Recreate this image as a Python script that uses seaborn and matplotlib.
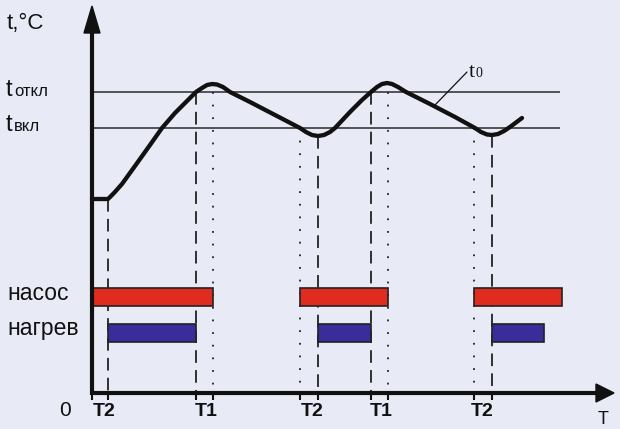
import matplotlib
matplotlib.use("Agg")
import matplotlib.pyplot as plt
import seaborn as sns
import pandas as pd

sns.set_style("white")
plt.rcParams['font.family'] = ['Liberation Sans', 'DejaVu Sans']

bg = "#E8EAF5"
red = "#E02B1F"
blue = "#3B2C9C"

# temperature curve t0 (pixel units)
curve_x = [92, 108, 114, 122, 135, 150, 162, 175, 188, 196, 202, 207, 212, 217, 223, 230,
           250, 275, 300, 306, 312, 318, 324, 330, 335, 350, 362, 371, 377, 382, 387,
           392, 398, 406, 430, 455, 475, 481, 487, 492, 498, 504, 510, 522]
curve_y = [199, 199, 193, 184, 166, 145, 128, 113, 100, 92, 88, 85, 84, 84.5, 87, 92,
           102, 115, 128, 132, 135, 136, 135, 132, 128, 112, 100, 92, 87, 84, 83,
           84, 87, 92, 104, 117, 128, 132, 134.5, 135, 134, 131, 127, 118]

t_off = 92
t_on = 128

# switching moments
t2_moments = [108, 318, 492]     # heater on (dashed)
t1_moments = [196, 371]          # heater off (dashed)
pump_on = [92, 300, 474]         # dotted
pump_off = [213, 388]            # dotted

pump_start = [92, 300, 474]
pump_end = [213, 388, 562]
heat_start = [108, 318, 492]
heat_end = [196, 371, 544]

tick_x = [92, 108, 196, 213, 300, 318, 371, 388, 474, 492]
tick_labels = ["T2", "T1", "T2", "T1", "T2"]
tick_label_x = [104, 206, 312, 381, 482]

fig = plt.figure(figsize=(6.2, 4.29), dpi=100, facecolor=bg)
ax = fig.add_axes([0, 0, 1, 1])
ax.set_facecolor(bg)

# threshold lines
ax.hlines([t_off, t_on], 92, 560, color="#2a2a2a", lw=1.1)

# vertical markers
for x in t2_moments:
    y0 = curve_y[curve_x.index(x)]
    ax.vlines(x, y0, 398, color="#222", lw=1.3, linestyles=(0, (7, 4)))
for x in t1_moments:
    ax.vlines(x, t_off, 398, color="#222", lw=1.3, linestyles=(0, (7, 4)))
for x in pump_on[1:]:
    ax.vlines(x, t_on, 398, color="#222", lw=1.3, linestyles=(0, (1, 6)))
for x in pump_off:
    ax.vlines(x, t_off, 398, color="#222", lw=1.3, linestyles=(0, (1, 6)))

# bars
ax.barh([297] * 3, [e - s for s, e in zip(pump_start, pump_end)], left=pump_start,
        height=18, color=red, edgecolor="#222", lw=1.2, zorder=3)
ax.barh([333] * 3, [e - s for s, e in zip(heat_start, heat_end)], left=heat_start,
        height=18, color=blue, edgecolor="#222", lw=1.2, zorder=3)

# curve
df = pd.DataFrame({"x": curve_x, "y": curve_y})
sns.lineplot(data=df, x="x", y="y", ax=ax, color="#111", lw=3.1, sort=False,
             estimator=None, zorder=4)
ax.lines[-1].set_solid_joinstyle("round")
ax.axis("off")
ax.set_xlim(0, 620)
ax.set_ylim(429, 0)

# axes with arrows
ax.plot([92, 92], [395, 28], color="#111", lw=3, solid_capstyle="butt", zorder=5)
ax.plot([90, 600], [393, 393], color="#111", lw=3, solid_capstyle="butt", zorder=5)
ax.fill([92, 84, 100], [6, 33, 33], color="#111", zorder=5)
ax.fill([614, 596, 596], [393, 384, 402], color="#111", zorder=5)

# ticks
ax.vlines(tick_x, 393, 400, color="#111", lw=1.5, zorder=5)
for x, lab in zip(tick_label_x, tick_labels):
    ax.text(x, 411, lab, ha="center", va="center", fontsize=14, fontweight="bold", color="#111")
ax.text(65, 411, "0", ha="center", va="center", fontsize=15, color="#111")
ax.text(603, 428, "T", ha="center", va="bottom", fontsize=13, color="#111")

# labels
ax.text(7, 23, "t,°C", ha="left", va="center", fontsize=16, color="#111")
ax.text(6, 96, "t", ha="left", va="baseline", fontsize=17, color="#111")
ax.text(14, 96, "откл", ha="left", va="baseline", fontsize=12, color="#111")
ax.text(6, 131, "t", ha="left", va="baseline", fontsize=17, color="#111")
ax.text(14, 131, "вкл", ha="left", va="baseline", fontsize=12, color="#111")
ax.text(7, 294, "насос", ha="left", va="center", fontsize=16.5, color="#111")
ax.text(7, 328, "нагрев", ha="left", va="center", fontsize=16.5, color="#111")

# t0 annotation
ax.plot([435, 467], [105, 72], color="#111", lw=0.9)
ax.text(469, 77, "t", ha="left", va="baseline", fontsize=16, color="#111", family="Liberation Serif")
ax.text(476, 77, "0", ha="left", va="baseline", fontsize=10, color="#111", family="Liberation Serif")

fig.savefig("out.png", dpi=100, facecolor=bg)
